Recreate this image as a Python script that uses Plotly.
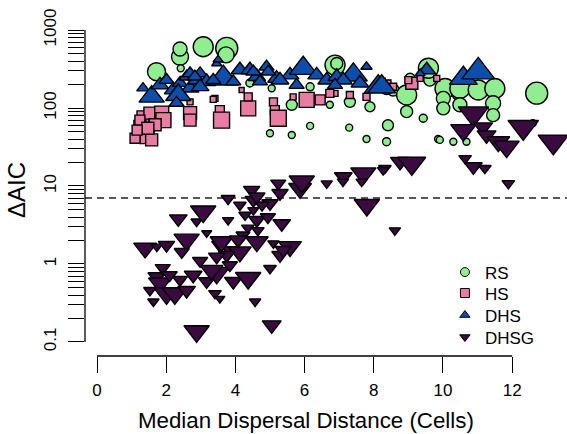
import plotly.graph_objects as go

# ---------------- data ----------------
# RS : green circles  (x = median dispersal distance, y = delta AIC, w = relative marker weight)
rs_x = [1.72, 2.4, 2.42, 2.4, 3.07, 3.75, 3.73, 6.88, 5.63, 7.89, 5.0, 5.63, 6.16, 7.29, 7.79, 8.37,
        8.41, 5.05, 6.73, 6.93, 7.31, 8.56, 8.95, 8.95, 9.53, 9.62, 10.06, 10.01, 10.01, 10.44, 9.43,
        9.86, 10.3, 10.68, 9.05, 9.58, 10.49, 11.02, 11.5, 11.45, 11.45, 10.49, 12.71, 12.6, 8.37,
        9.91, 4.42, 6.16]
rs_y = [292, 455, 323, 570, 611, 582, 480, 355, 110, 104, 47.5, 45, 59, 56, 40, 37,
        60, 179, 110, 372, 120, 170, 147, 90, 308, 228, 178, 133, 99, 154, 74,
        40, 37, 37, 241, 324, 178, 170, 178, 115, 81, 110, 155, 64, 178,
        39, 209, 187]
rs_w = [18, 17, 7, 14, 20, 22, 16, 20, 11, 10, 7, 7, 7, 7, 7, 8,
        11, 7, 7, 12, 11, 12, 20, 12, 12, 12, 20, 14, 13, 13, 8,
        7, 7, 7, 10, 20, 20, 20, 20, 15, 13, 14, 22, 7, 12,
        7, 8, 8]

# HS : pink squares
hs_x = [1.33, 1.53, 1.87, 1.24, 1.44, 1.58, 1.92, 1.24, 2.69, 2.69, 2.69, 3.41, 1.24, 1.68, 1.47,
        1.1, 1.16, 3.55, 3.6, 3.36, 4.37, 4.37, 4.18, 5.1, 5.14, 5.24, 6.06, 6.45, 6.88, 6.73,
        7.31, 7.79, 8.41, 9.1, 9.0, 8.56, 9.82, 9.34, 8.23, 5.67]
hs_y = [77, 86, 86, 50, 43, 39, 70, 58, 86, 70, 120, 133, 70, 61, 55,
        41, 52, 94, 70, 129, 99, 139, 170, 120, 94, 74, 127, 127, 154, 154,
        147, 139, 209, 208, 228, 187, 240, 240, 218, 139]
hs_w = [12, 12, 14, 12, 14, 12, 15, 12, 13, 12, 6, 6, 10, 12, 12,
        10, 10, 9, 16, 6, 15, 8, 5, 8, 9, 16, 15, 10, 6, 8,
        7, 7, 6, 12, 7, 7, 6, 6, 7, 6]

# DHS : blue up-triangles
dhs_x = [1.33, 1.58, 1.82, 2.01, 2.2, 2.4, 2.59, 2.69, 2.88, 2.35, 2.69, 2.98, 3.17, 3.46, 2.3,
         2.83, 2.98, 3.65, 3.5, 4.13, 4.42, 4.62, 4.9, 5.19, 5.58, 5.96, 6.35, 6.64, 6.93, 7.41,
         7.79, 8.13, 4.52, 4.95, 5.29, 5.77, 4.71, 3.94, 3.36, 7.6, 7.12, 6.88, 9.53, 9.34, 8.23,
         10.59, 11.02]
dhs_y = [180, 140, 197, 228, 170, 209, 252, 180, 228, 147, 278, 278, 218, 372, 116,
         252, 187, 240, 415, 308, 308, 252, 338, 240, 265, 323, 265, 228, 252, 265,
         338, 187, 292, 292, 228, 197, 218, 218, 228, 208, 228, 197, 308, 278, 187,
         240, 292]
dhs_w = [10, 20, 14, 12, 14, 12, 12, 14, 14, 20, 12, 12, 14, 8, 12,
         12, 14, 24, 8, 14, 14, 14, 12, 14, 14, 22, 14, 14, 14, 22,
         9, 22, 12, 12, 14, 12, 12, 12, 12, 14, 14, 12, 14, 8, 22,
         22, 26]

# DHSG : dark purple down-triangles
dhsg_x = [1.39, 1.73, 2.01, 2.35, 2.88, 3.07, 3.79, 3.79, 2.59, 3.17, 2.45, 1.73, 1.82, 2.01, 2.25,
          1.63, 2.59, 2.78, 3.17, 3.41, 3.55, 3.46, 3.55, 3.84, 4.13, 3.94, 4.37, 4.62, 4.62, 4.52,
          4.52, 5.0, 4.57, 5.1, 5.34, 5.58, 5.29, 2.88, 5.05, 5.0, 5.29, 5.87, 5.24, 3.75, 3.46,
          3.6, 4.47, 4.94, 5.38, 3.31, 4.28, 4.36, 4.22, 4.65, 4.77, 4.13, 1.9, 2.1, 1.53, 2.4,
          2.98, 3.84, 4.08, 7.12, 6.64, 7.7, 8.32, 5.92, 7.8, 4.62, 8.27, 8.76, 9.1, 10.88, 10.59,
          11.16, 11.26, 11.6, 11.84, 12.32, 13.19, 10.64, 10.88, 11.21, 11.89, 8.61, 7.11, 7.65]
dhsg_y = [1.6, 1.67, 1.75, 3.8, 3.5, 4.7, 6.9, 3.65, 2.05, 2.5, 1.43, 0.69, 0.57, 0.42, 0.42,
          0.33, 0.46, 0.72, 0.6, 0.42, 0.36, 0.77, 1.75, 1.5, 1.43, 0.6, 0.66, 1.93, 3.65, 6.6,
          4.9, 0.88, 0.33, 1.84, 3.3, 1.67, 1.3, 0.137, 0.165, 6.0, 8.1, 9.3, 10.8, 1.3, 1.24,
          1.93, 8.9, 4.0, 1.51, 0.83, 4.25, 2.9, 2.35, 2.7, 5.7, 5.7, 0.89, 0.72, 0.46, 0.63,
          1.1, 0.97, 2.04, 13.2, 10.8, 14.5, 16.9, 11.4, 5.7, 7.3, 16, 20.5, 19.5, 85, 52,
          57, 45, 37, 32, 57, 37, 22.6, 17.7, 16.9, 10.8, 2.7, 11.4, 11.4]
dhsg_w = [18, 9, 13, 14, 9, 20, 11, 9, 20, 8, 12, 14, 18, 20, 20,
          9, 14, 14, 13, 10, 8, 20, 13, 13, 18, 14, 20, 18, 13, 13,
          9, 10, 9, 9, 14, 18, 13, 20, 15, 13, 13, 18, 12, 13, 13,
          18, 13, 12, 13, 18, 10, 10, 11, 10, 11, 10, 12, 12, 10, 12,
          12, 12, 14, 14, 9, 20, 10, 20, 20, 13, 9, 15, 22, 24, 20,
          15, 15, 18, 20, 24, 24, 10, 14, 10, 10, 9, 9, 9]

threshold = 7
x_ticks = [0, 2, 4, 6, 8, 10, 12]
y_major = [0.1, 1, 10, 100, 1000]
y_major_labels = ["0.1", "1", "10", "100", "1000"]
series_names = ["RS", "HS", "DHS", "DHSG"]

# ---------------- figure ----------------
FONT = "Liberation Sans, Arial, Helvetica, sans-serif"
col = {"RS": "#90EE90", "HS": "#E97CA3", "DHS": "#0D4DAB", "DHSG": "#3A0A40"}
sym = {"RS": "circle", "HS": "square", "DHS": "triangle-up", "DHSG": "triangle-down"}

fig = go.Figure()


def add_series(x, y, w, name, scale):
    fig.add_trace(go.Scatter(
        x=x, y=y, mode="markers", showlegend=False, cliponaxis=False, hoverinfo="skip",
        marker=dict(symbol=sym[name], size=[v * scale for v in w], color=col[name], opacity=1,
                    line=dict(color="black", width=1.4))))


add_series(rs_x, rs_y, rs_w, "RS", 1.0)
add_series(hs_x, hs_y, hs_w, "HS", 1.0)
add_series(dhs_x, dhs_y, dhs_w, "DHS", 1.1)
add_series(dhsg_x, dhsg_y, dhsg_w, "DHSG", 1.1)

# one small legend per entry so the row spacing can follow the reference
legend_ids = ["legend", "legend2", "legend3", "legend4"]
legend_tops = [0.2994, 0.2375, 0.1726, 0.1077]
for name, lid in zip(series_names, legend_ids):
    fig.add_trace(go.Scatter(x=[None], y=[None], mode="markers", name=name, legend=lid,
                             marker=dict(symbol=sym[name], size=9, color=col[name], opacity=1,
                                         line=dict(color="black", width=1))))

# minor log ticks
y_tickvals, y_ticktext = [], []
for d in [0.1, 1, 10, 100]:
    for k in range(1, 10):
        v = round(d * k, 4)
        y_tickvals.append(v)
        y_ticktext.append(y_major_labels[y_major.index(d)] if k == 1 else "")
y_tickvals.append(1000)
y_ticktext.append("1000")

legend_style = dict(x=0.753, xanchor="left", yanchor="top", bgcolor="rgba(0,0,0,0)",
                    font=dict(size=17, family=FONT, color="black"), itemsizing="trace")

fig.update_layout(
    width=567, height=434,
    margin=dict(l=85, r=4, t=17, b=78, pad=0, autoexpand=False),
    paper_bgcolor="white", plot_bgcolor="white",
    font=dict(family=FONT, color="black", size=17),
    showlegend=True,
    xaxis=dict(range=[-0.347, 13.47], tickmode="array", tickvals=x_ticks,
               ticks="outside", ticklen=16, tickwidth=1.3, tickcolor="black",
               showgrid=False, zeroline=False, showline=False, automargin=False,
               tickfont=dict(size=17), ticklabelstandoff=3),
    yaxis=dict(type="log", range=[-1.18, 3.167], tickmode="array",
               tickvals=y_tickvals, ticktext=y_ticktext, tickangle=-90,
               ticks="outside", ticklen=16, tickwidth=1.3, tickcolor="black",
               showgrid=False, zeroline=False, showline=False, automargin=False,
               tickfont=dict(size=17), ticklabelstandoff=5),
    shapes=[
        dict(type="line", xref="x", yref="paper", x0=0, x1=12, y0=0, y1=0,
             line=dict(color="black", width=1.3)),
        dict(type="line", xref="paper", yref="y", x0=0, x1=0, y0=0.1, y1=1000,
             line=dict(color="black", width=1.3)),
        dict(type="line", xref="paper", yref="y", x0=0, x1=1.01, y0=threshold, y1=threshold,
             line=dict(color="#222222", width=1.5, dash="7px,5px"), layer="below"),
    ],
    annotations=[
        dict(text="Median Dispersal Distance (Cells)", xref="paper", yref="paper",
             x=0.462, y=-0.189, xanchor="center", yanchor="middle", showarrow=False,
             font=dict(size=22.3)),
        dict(text="ΔAIC", xref="paper", yref="paper", x=-0.142, y=0.49,
             xanchor="center", yanchor="middle", textangle=-90, showarrow=False,
             font=dict(size=24)),
    ],
)
for lid, top in zip(legend_ids, legend_tops):
    fig.update_layout({lid: dict(legend_style, y=top)})

fig.write_html("out.html", config={"displayModeBar": False},
               post_script="document.body.style.margin='0';")
